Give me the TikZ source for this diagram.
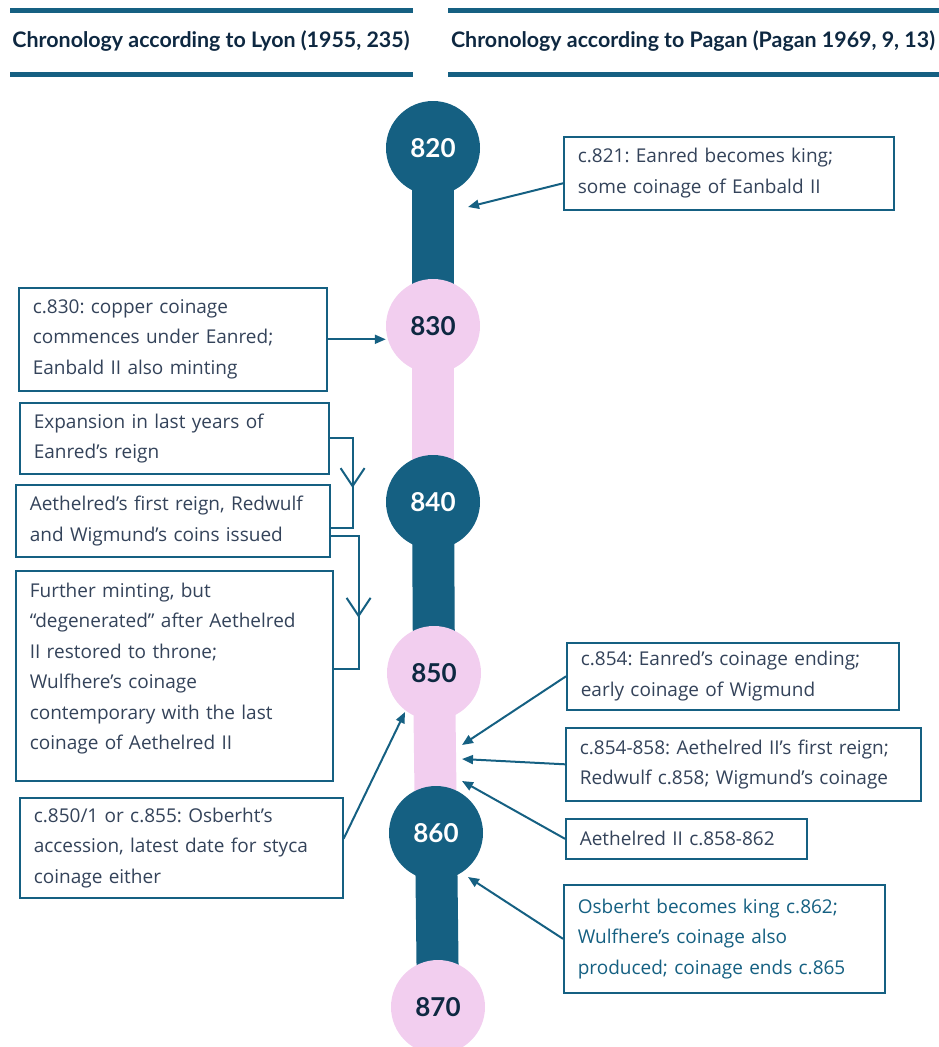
\documentclass[tikz,border=0pt]{standalone}
\usepackage{fontspec}
\setmainfont{Open Sans}
\newfontfamily\labelfont{Lato}[Ligatures=NoCommon]
\frenchspacing
\usetikzlibrary{arrows.meta,decorations.markings}
\pgfdeclarelayer{bg}
\pgfsetlayers{bg,main}
\definecolor{tlblue}{HTML}{156082}
\definecolor{tlpink}{HTML}{F2CEEF}
\definecolor{tlnavy}{HTML}{0E2841}
\definecolor{tltext}{HTML}{34435A}
\tikzset{
    darkyear/.style={circle, fill=tlblue, text=white, minimum size=94pt, inner sep=0pt,
        font=\labelfont\fontsize{26}{26}\selectfont\bfseries},
    pinkyear/.style={darkyear, fill=tlpink, text=tlnavy},
    event/.style={draw=tlblue, line width=1.6pt, fill=white, anchor=north west, align=left,
        inner xsep=14pt, inner ysep=0pt, text=tltext, font=\fontsize{19}{30.5}\selectfont},
    pointer/.style={draw=tlblue, line width=2pt, -{Triangle[length=11pt,width=9pt]}},
    bracket/.style={draw=tlblue, line width=2pt, postaction={decorate},
        decoration={markings, mark=at position #1 with
            {\arrow{Straight Barb[length=18pt,width=24pt,line width=2pt]}}}},
    header/.style={text=tlnavy, font=\labelfont\fontsize{21.4}{21.4}\selectfont\bfseries},
    rule/.style={draw=tlblue, line width=5pt}
}
\begin{document}
\begin{tikzpicture}[x=1pt, y=-1pt]
        \useasboundingbox (0,0) rectangle (939,1047);
        % headers
        \node[header] (hdLyon) at (211,41) {
            Chronology according to Lyon (1955, 235)
        };
        \node[header] (hdPagan) at (693,41) {
            Chronology according to Pagan (Pagan 1969, 9, 13)
        };
        \draw[rule] (10,10) -- (413,10);
        \draw[rule] (10,74) -- (413,74);
        \draw[rule] (448,10) -- (939,10);
        \draw[rule] (448,74) -- (939,74);
        % timeline
        \node[darkyear] (y820) at (433,148) {820};
        \node[pinkyear] (y830) at (433,326) {830};
        \node[darkyear] (y840) at (433,502) {840};
        \node[pinkyear] (y850) at (434,673) {850};
        \node[darkyear] (y860) at (436,833) {860};
        \node[pinkyear] (y870) at (438,1007) {870};
        \begin{pgfonlayer}{bg}
            \draw[line width=42pt, tlblue] (y820.center) -- (y830.center);
            \draw[line width=42pt, tlpink] (y830.center) -- (y840.center);
            \draw[line width=42pt, tlblue] (y840.center) -- (y850.center);
            \draw[line width=42pt, tlpink] (y850.center) -- (y860.center);
            \draw[line width=42pt, tlblue] (y860.center) -- (y870.center);
        \end{pgfonlayer}
        % Pagan
        \node[event, text width=302pt, minimum height=73pt] (P821) at (563,136) {
            c.821: Eanred becomes king;\\some coinage of Eanbald II
        };
        \node[event, text width=304pt, minimum height=67pt] (P854) at (566,642) {
            c.854: Eanred’s coinage ending;\\early coinage of Wigmund
        };
        \node[event, text width=327pt, minimum height=73pt] (P858) at (565,727) {
            c.854-858: Aethelred II’s first reign;\\Redwulf c.858; Wigmund’s coinage
        };
        \node[event, text width=213pt, minimum height=40pt] (P862) at (565,818) {
            Aethelred II c.858-862
        };
        \node[event, text width=293pt, minimum height=108pt, text=tlblue] (P865) at (563,884) {
            Osberht becomes king c.862;\\Wulfhere’s coinage also\\produced; coinage ends c.865
        };
        % Lyon
        \node[event, text width=280pt, minimum height=103pt] (L830) at (18,287) {
            c.830: copper coinage\\commences under Eanred;\\Eanbald II also minting
        };
        \node[event, text width=281pt, minimum height=71pt] (L835) at (19,402) {
            Expansion in last years of\\Eanred’s reign
        };
        \node[event, text width=286pt, minimum height=72pt] (L840) at (15,484) {
            Aethelred’s first reign, Redwulf\\and Wigmund’s coins issued
        };
        \node[event, text width=289pt, inner ysep=12pt, text depth=172pt] (L845) at (15,570) {
            Further minting, but\\“degenerated” after Aethelred\\II restored to throne;\\Wulfhere’s coinage\\contemporary with the last\\coinage of Aethelred II
        };
        \node[event, text width=295pt, minimum height=100pt] (L850) at (19,797) {
            c.850/1 or c.855: Osberht’s\\accession, latest date for styca\\coinage either
        };
        % arrow ends on the line
        \coordinate (t821) at (468,207);
        \coordinate (t854) at (462,745);
        \coordinate (t858) at (462,759);
        \coordinate (t862) at (462,781);
        \coordinate (t865) at (468,877);
        \coordinate (t850) at (405,712);
        \draw[pointer] ([yshift=-10pt]P821.west) -- (t821);
        \draw[pointer] (P854.west) -- (t854);
        \draw[pointer] (P858.west) -- (t858);
        \draw[pointer] (P862.west) -- (t862);
        \draw[pointer] (P865.west) -- (t865);
        \draw[pointer] (L830.east) -- (L830.east -| y830.west);
        \draw[pointer] ([yshift=9pt]L850.east) -- (t850);
        \draw[bracket=0.54] (L835.east) -- ++(23,0) |- ([yshift=-7pt]L840.east);
        \draw[bracket=0.59] ([yshift=-15pt]L840.east) -- ++(28,0) |- ([yshift=7pt]L845.east);
\end{tikzpicture}
\end{document}
